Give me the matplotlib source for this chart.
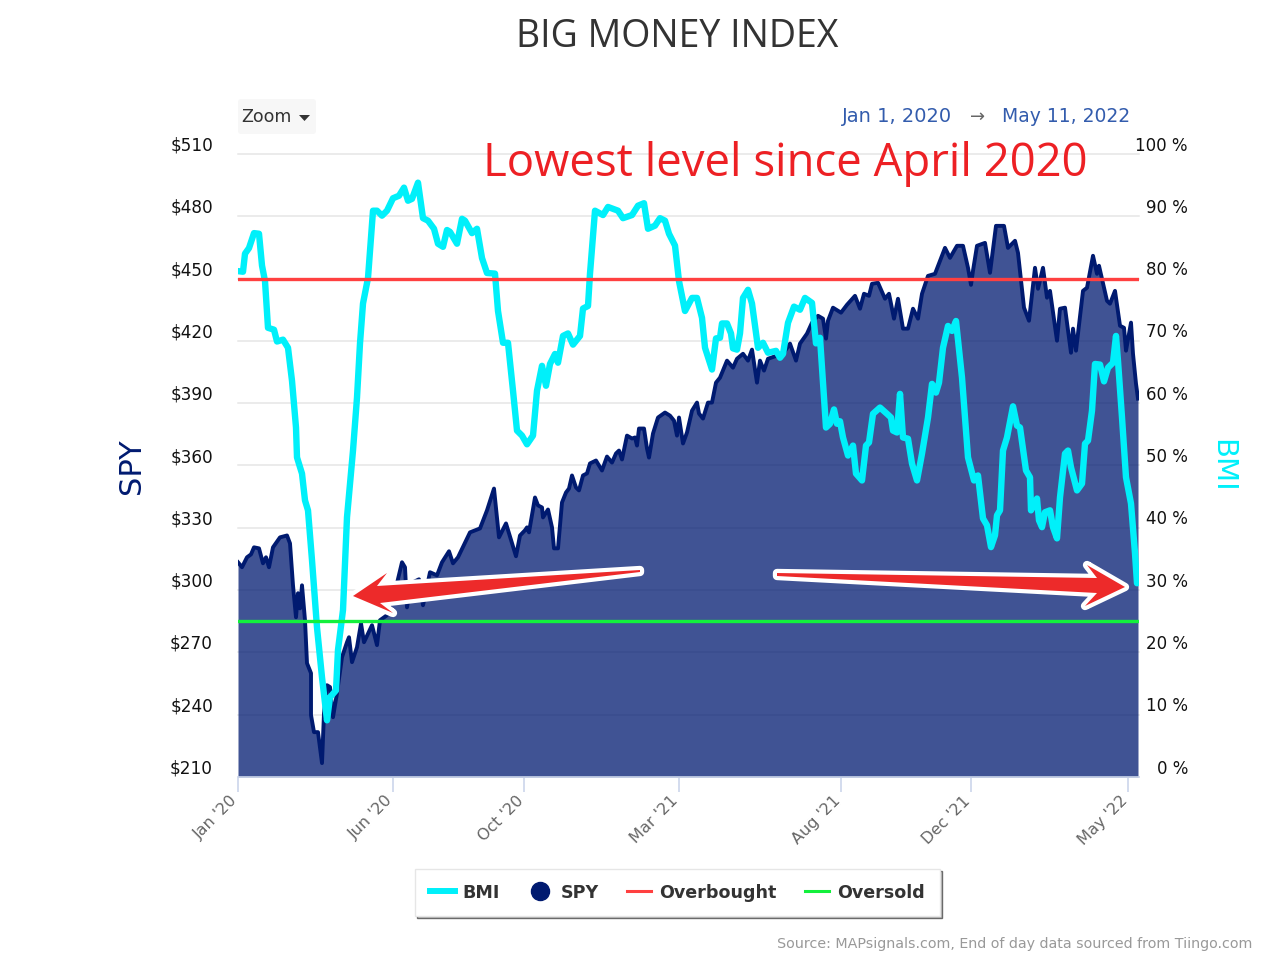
import matplotlib
matplotlib.use("Agg")
import matplotlib.pyplot as plt
from matplotlib.lines import Line2D
from matplotlib.patches import Polygon, FancyBboxPatch
from matplotlib.transforms import ScaledTranslation, Affine2D

W, H = 1263, 955

bmi_pos = [0,5,7,11,16,21,24,27,30,36,39,45,50,54,58,59,64,67,70,74,79,84,89,92,98,100,105,109,115,119,122,125,130,135,139,144,149,155,161,166,170,174,180,185,190,196,200,205,209,212,219,224,227,234,239,244,249,257,260,265,270,275,279,284,289,295,299,304,308,312,317,320,325,330,335,342,345,350,352,357,365,370,380,385,394,400,406,410,417,422,427,431,437,441,447,454,459,464,467,474,478,482,484,489,493,495,499,502,505,510,514,520,525,530,538,542,545,550,556,562,567,574,578,582,588,592,596,599,602,605,610,615,618,624,628,631,635,642,649,653,655,659,662,665,670,674,679,684,690,694,698,701,705,710,714,718,724,730,736,740,745,749,753,757,759,762,765,769,775,779,782,788,792,793,799,801,804,807,812,815,819,822,827,830,833,839,844,847,850,854,857,862,866,870,875,878,880,884,888,893,897,899]
bmi_values = [81.2,81.1,84.0,84.9,87.3,87.2,82.1,79.6,72.1,71.8,69.9,70.2,68.9,63.6,56.1,51.3,48.7,44.4,42.8,34.8,24.0,16.0,9.1,12.8,13.9,20.4,26.8,41.7,52.4,60.9,69.6,76.0,80.1,90.9,90.9,90.1,90.9,92.9,93.3,94.6,92.5,92.8,95.4,89.7,89.3,88.0,85.6,85.1,87.8,87.5,85.6,89.6,89.3,87.3,88.0,83.3,80.9,80.8,74.8,69.7,69.7,62.0,55.6,54.8,53.4,54.8,62.0,66.0,62.8,66.3,67.9,66.5,70.8,71.2,69.4,70.8,75.2,75.6,80.8,90.9,90.2,91.5,90.9,89.7,90.2,91.7,92.1,88.0,88.5,89.7,89.3,87.2,85.3,79.6,74.8,76.9,76.9,73.7,68.9,65.4,70.4,70.5,72.8,72.8,71.2,68.8,68.6,71.2,76.9,78.2,76.0,68.9,69.7,68.1,68.4,67.3,67.9,72.9,75.5,75.0,76.9,76.1,69.6,70.5,56.1,56.7,59.0,56.7,57.1,54.5,51.6,53.2,48.7,47.6,53.2,53.7,58.3,59.3,58.3,57.7,55.6,55.3,61.5,54.5,54.3,50.3,47.6,51.9,57.7,63.1,61.7,63.3,68.9,72.4,71.6,73.2,64.1,51.3,47.6,48.4,41.5,40.4,36.9,38.8,42.0,42.8,52.4,54.5,59.5,56.4,56.1,49.2,48.1,42.8,44.7,41.2,40.1,42.5,42.8,40.1,38.3,44.9,51.9,52.4,49.7,46.0,47.1,53.5,54.0,58.8,66.3,66.2,63.5,65.7,66.5,70.8,66.8,57.7,48.1,43.9,35.9,31.1]

spy_pos = [0,4,9,13,16,21,25,28,31,35,42,49,52,55,58,60,62,64,67,69,73,73,76,80,84,86,89,92,95,99,104,109,111,114,119,123,126,134,139,142,149,159,164,167,169,173,181,185,192,199,204,211,215,220,232,242,249,256,261,268,278,282,287,289,291,297,300,304,305,310,314,316,320,324,328,331,334,338,341,345,349,352,358,364,369,374,378,381,384,389,394,397,399,401,406,409,411,415,420,427,432,436,439,441,445,449,454,459,461,465,470,474,478,482,489,495,499,505,510,514,519,522,526,530,539,545,552,558,562,569,574,580,585,588,590,595,603,609,617,622,626,631,634,640,647,651,656,660,665,670,675,680,684,690,697,707,712,719,725,730,733,735,739,744,747,752,758,766,770,777,780,786,791,797,800,805,809,812,819,822,827,833,835,838,845,849,855,859,861,869,872,877,882,886,888,893,895,898,900]
spy_values = [313.4,311,315.8,317.2,320.6,320.1,312.9,315.8,311,320.6,325.4,326.3,322.5,302.3,286.9,298.5,291.2,302.3,285.5,264.8,260,239.8,231.6,231.6,216.7,240.8,254.2,253.3,238.8,250.4,267.7,274.9,277.3,265.3,272.5,284,274.9,283.1,273.5,285.5,287.9,303.3,313.4,311,291.7,303.3,305.2,292.7,308.6,307.1,313.4,318.7,312.9,315.8,327.8,329.7,338.4,348.9,325.4,332.1,316.3,326.3,328.8,330.2,327.8,344.6,340.8,339.8,335,338.8,330.2,320.1,320.1,342.2,347,348.9,355.2,349.4,348,355.2,356.2,361,362.4,357.6,364.3,361.4,365.8,367.2,362.9,374.4,373,373.5,369.6,377.8,377.8,368.2,363.8,375.4,383.1,385.5,384,381.6,374.4,383.1,370.6,375.9,386.4,390.3,385,382.6,390.3,390.3,399.9,402.3,410.5,407.1,411.4,413.8,410.5,415.8,399.9,410.5,405.7,411.4,412.9,413.8,418.7,410.5,418.7,423.5,428.8,432.1,430.7,421.1,429.7,436,433.6,437.4,441.7,435.5,442.7,441.7,447.5,448,440.3,442.7,430.7,440.3,425.9,425.9,435.5,430.7,442.7,451.3,452.3,464.8,460,465.8,465.8,455.2,447,453.8,465.8,466.7,467.2,452.8,475.4,475.4,464.8,468.2,462.4,436,429.7,455.2,445.1,455.2,440.8,444.1,420.1,435.5,436,414.3,425.9,415.3,444.1,445.6,461,452.3,456.2,439.3,437.9,444.1,427.3,426.3,415.3,428.8,413.8,399.4,392.2]

x_ticks = [0,155,286,441,603,733,890]
x_labels = ["Jan '20","Jun '20","Oct '20","Mar '21","Aug '21","Dec '21","May '22"]
spy_ticks = [210,240,270,300,330,360,390,420,450,480,510]
bmi_ticks = [0,10,20,30,40,50,60,70,80,90,100]
overbought = 80
oversold = 25
legend_labels = ["BMI","SPY","Overbought","Oversold"]

plt.rcParams['font.family'] = ['DejaVu Sans']
SPY_C, BMI_C, RED, GREEN = '#001a70', '#00f0fa', '#ff4040', '#13f03c'

fig = plt.figure(figsize=(W/100, H/100), dpi=100, facecolor='white')
ax = fig.add_axes([238/W, 1-777/H, (1139-238)/W, (777-154)/H])
ax.set_xlim(0, 901); ax.set_ylim(210, 510)
ax.set_yticks(spy_ticks, [f"${v}" for v in spy_ticks])
ax.grid(axis='y', color='#e6e6e6', lw=1.1, zorder=0)
for l in ax.get_ygridlines():
    l.set_clip_on(False)
ax.set_axisbelow(True)
ax.fill_between(spy_pos, spy_values, 210, color=SPY_C, alpha=0.75, lw=0, zorder=2)
ax.plot(spy_pos, spy_values, color=SPY_C, lw=2.8, solid_joinstyle='round', zorder=3)
for s in ['top','left','right']:
    ax.spines[s].set_visible(False)
ax.spines['bottom'].set_color('#ccd6eb'); ax.spines['bottom'].set_linewidth(1.2)
ax.set_xticks(x_ticks, x_labels)
ax.tick_params(axis='x', length=11, width=1.2, color='#ccd6eb', labelcolor='#666666', labelsize=11.5, pad=0.5)
for t in ax.get_xticklabels():
    t.set_rotation(45); t.set_ha('right'); t.set_rotation_mode('anchor')
    t.set_transform(t.get_transform() + ScaledTranslation(-6/72, 0, fig.dpi_scale_trans))
ax.tick_params(axis='y', length=0, labelsize=12.2, pad=18, labelcolor='#111111')
for t in ax.get_yticklabels():
    t.set_transform(t.get_transform() + ScaledTranslation(0, 7.5/72, fig.dpi_scale_trans))

ax2 = ax.twinx()
ax2.set_ylim(0, 100); ax2.set_xlim(0, 901)
ax2.patch.set_visible(False)
for s in ax2.spines.values():
    s.set_visible(False)
ax2.set_yticks(bmi_ticks, [f"{v} %" for v in bmi_ticks])
ax2.tick_params(axis='y', length=0, labelsize=12, pad=35.2, labelcolor='#111111')
for t in ax2.get_yticklabels():
    t.set_ha('right')
    t.set_transform(t.get_transform() + ScaledTranslation(0, 7.5/72, fig.dpi_scale_trans))
ax2.plot(bmi_pos, bmi_values, color=BMI_C, lw=4.6, solid_joinstyle='round', solid_capstyle='round', zorder=4)
ax2.axhline(overbought, color=RED, lw=2.4, zorder=5)
ax2.axhline(oversold, color=GREEN, lw=2.4, zorder=5)

px = Affine2D().scale(1/W, -1/H).translate(0, 1) + fig.transFigure
def T(x, y, s, **k):
    return fig.text(x/W, 1-y/H, s, **k)

T(677, 37, "BIG MONEY INDEX", ha='center', va='center', fontsize=27, color='#333333', family='Open Sans')
T(785, 164, "Lowest level since April 2020", ha='center', va='center', fontsize=32.8, color='#ed2024', family='Open Sans', zorder=10)
T(131, 466, "SPY", rotation=90, ha='center', va='center', fontsize=22, color=SPY_C)
T(1222, 466, "BMI", rotation=270, ha='center', va='center', fontsize=21, color=BMI_C)
T(842, 117, "Jan 1, 2020", ha='left', va='center', fontsize=14, color='#335cad')
T(978, 117, "\u2192", ha='center', va='center', fontsize=13, color='#666666')
T(1130, 117, "May 11, 2022", ha='right', va='center', fontsize=13.5, color='#335cad')
T(1252, 944, "Source: MAPsignals.com, End of day data sourced from Tiingo.com", ha='right', va='center', fontsize=10.3, color='#999999')

fig.add_artist(FancyBboxPatch((240, 101), 74, 31, boxstyle='round,pad=2,rounding_size=3', transform=px, fc='#f7f7f7', ec='none'))
T(241, 117, "Zoom", ha='left', va='center', fontsize=12.6, color='#333333')
fig.add_artist(Polygon([(299,115),(310,115),(304.5,121)], closed=True, transform=px, fc='#333333', ec='none'))

left_arrow = [(640,570),(377,586),(387,573),(353,596),(393,613),(380,603),(640,572)]
right_arrow = [(777,573),(1097,578),(1087,565),(1125,587),(1085,606),(1097,593),(777,576)]
for pts in (left_arrow, right_arrow):
    fig.add_artist(Polygon(pts, closed=True, transform=px, fc='#ed2a2a', ec='white', lw=6, joinstyle='round', zorder=9))
    fig.add_artist(Polygon(pts, closed=True, transform=px, fc='#ed2a2a', ec='none', zorder=9.1))

handles = [Line2D([], [], color=BMI_C, lw=4.3),
           Line2D([], [], color=SPY_C, marker='o', ms=13, ls='none'),
           Line2D([], [], color=RED, lw=2.2),
           Line2D([], [], color=GREEN, lw=2.2)]
leg = fig.legend(handles, legend_labels, ncols=4, loc='center', bbox_to_anchor=(677.5/W, 1-892.5/H),
                 prop={'weight':'bold','size':12.6}, labelcolor='#333333', frameon=True, fancybox=False,
                 shadow={'ox':1.5,'oy':-1.5,'fc':'#aaaaaa','alpha':0.8}, edgecolor='#e6e6e6', framealpha=1,
                 handlelength=1.4, handletextpad=0.46, columnspacing=1.6, borderpad=0.85, borderaxespad=0)
leg.set_zorder(8)

fig.savefig('out.png', dpi=100)
